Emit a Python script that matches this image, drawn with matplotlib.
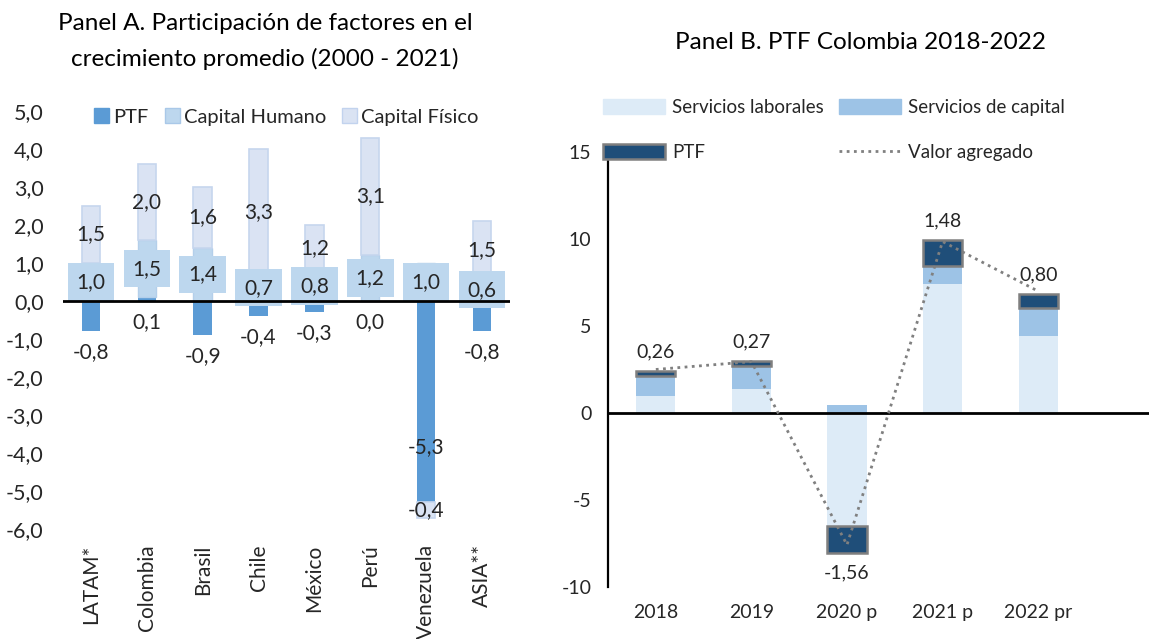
import numpy as np
import matplotlib
matplotlib.use('Agg')
import matplotlib.pyplot as plt
from matplotlib.patches import Patch
from matplotlib.lines import Line2D
from matplotlib.ticker import FuncFormatter

plt.rcParams['font.family'] = ['Lato', 'DejaVu Sans']
plt.rcParams['axes.unicode_minus'] = False

TXT = '#262626'

# Panel A: participación de factores (2000 - 2021)
paises = ['LATAM*', 'Colombia', 'Brasil', 'Chile', 'México', 'Perú', 'Venezuela', 'ASIA**']
ptf_a = [-0.8, 0.1, -0.9, -0.4, -0.3, 0.0, -5.3, -0.8]
cap_humano = [1.0, 1.5, 1.4, 0.7, 0.8, 1.2, 1.0, 0.6]
cap_fisico = [1.5, 2.0, 1.6, 3.3, 1.2, 3.1, -0.4, 1.5]
ticks_a = [5, 4, 3, 2, 1, 0, -1, -2, -3, -4, -5, -6]

# Panel B: PTF Colombia 2018-2022
anios = ['2018', '2019', '2020 p', '2021 p', '2022 pr']
serv_laborales = [1.0, 1.4, -6.5, 7.4, 4.45]
serv_capital = [1.15, 1.3, 0.48, 1.06, 1.58]
ptf_b = [0.26, 0.27, -1.56, 1.48, 0.80]
valor_agregado = [2.5, 2.95, -7.58, 9.85, 7.0]
ticks_b = [15, 10, 5, 0, -5, -10]


def stack(series):
    """bases de barras apiladas (positivos y negativos por separado)"""
    n = len(series[0])
    pos = np.zeros(n)
    neg = np.zeros(n)
    out = []
    for s in series:
        s = np.asarray(s, dtype=float)
        out.append(np.where(s >= 0, pos, neg))
        pos = pos + np.where(s >= 0, s, 0)
        neg = neg + np.where(s < 0, s, 0)
    return out


def coma(v, dec=1):
    return f'{v:.{dec}f}'.replace('.', ',')


fig = plt.figure(figsize=(11.49, 6.39), dpi=100)

# ---------------- Panel A ----------------
ax = fig.add_axes([0.0548, 0.1721, 0.389, 0.6541])
x = np.arange(len(paises))
w = 0.33
b_ptf, b_ch, b_cf = stack([ptf_a, cap_humano, cap_fisico])

ax.bar(x, ptf_a, w, bottom=b_ptf, color='#5B9BD5', zorder=2)
ax.bar(x, cap_humano, w, bottom=b_ch, color='#BDD7EE', edgecolor='#B4CFEA', lw=1, zorder=2)
ax.bar(x, cap_fisico, w, bottom=b_cf, color='#DAE3F3', edgecolor='#C6D6EE', lw=1.2, zorder=2)
ax.axhline(0, color='black', lw=2, zorder=5)

for i in range(len(paises)):
    # capital fisico: centro del segmento
    ax.text(x[i], b_cf[i] + cap_fisico[i] / 2, coma(cap_fisico[i]), ha='center', va='center',
            fontsize=15, color=TXT, zorder=4)
    # capital humano: caja ancha
    ax.text(x[i], b_ch[i] + cap_humano[i] / 2, coma(cap_humano[i]), ha='center', va='center',
            fontsize=15, color=TXT, zorder=4,
            bbox=dict(boxstyle='square,pad=0.42', fc='#BDD7EE', ec='none'))
    # PTF
    v = ptf_a[i]
    y = v + 1.45 if v < -3 else min(v, 0) - 0.55
    ax.text(x[i], y, coma(v), ha='center', va='center', fontsize=15, color=TXT, zorder=4)

ax.set_xlim(-0.5, len(paises) - 0.5)
ax.set_ylim(-6, 5)
ax.set_yticks(ticks_a)
ax.yaxis.set_major_formatter(FuncFormatter(lambda v, p: coma(v)))
ax.set_xticks(x)
ax.set_xticklabels(paises, rotation=90, va='top', ha='center')
ax.tick_params(axis='y', length=0, pad=14, labelsize=15.5, labelcolor=TXT)
ax.tick_params(axis='x', length=0, pad=11, labelsize=15, labelcolor=TXT)
for s in ax.spines.values():
    s.set_visible(False)

leg_a = [Patch(fc='#5B9BD5', ec='#5B9BD5', label='PTF'),
         Patch(fc='#BDD7EE', ec='#A9C8E8', label='Capital Humano'),
         Patch(fc='#DAE3F3', ec='#C2D3EE', label='Capital Físico')]
ax.legend(handles=leg_a, loc='upper center', bbox_to_anchor=(0.5, 1.05), ncol=3, frameon=False,
          fontsize=14.5, handlelength=0.75, handleheight=0.75, handletextpad=0.2, columnspacing=0.8,
          labelcolor=TXT)

fig.text(0.2306, 0.935, 'Panel A. Participación de factores en el\ncrecimiento promedio (2000 - 2021)',
         ha='center', va='center', fontsize=17.5, color='black', linespacing=1.75)

# ---------------- Panel B ----------------
bx = fig.add_axes([0.5292, 0.0814, 0.4708, 0.6808])
xb = np.arange(len(anios))
wb = 0.41
b_lab, b_cap, b_ptf_b = stack([serv_laborales, serv_capital, ptf_b])

bx.bar(xb, serv_laborales, wb, bottom=b_lab, color='#DDEBF7', zorder=2)
bx.bar(xb, serv_capital, wb, bottom=b_cap, color='#9DC3E6', zorder=2)
bx.bar(xb, ptf_b, wb, bottom=b_ptf_b, color='#1F4E79', edgecolor='#7F7F7F', lw=1.8, zorder=3)
bx.plot(xb, valor_agregado, color='#808080', lw=2, linestyle=(0, (1, 1.6)), zorder=6)
bx.axhline(0, color='black', lw=2, zorder=5)

for i in range(len(anios)):
    v = ptf_b[i]
    if v >= 0:
        ytop = b_ptf_b[i] + v
        bx.annotate(coma(v, 2), (xb[i], ytop), xytext=(0, 14), textcoords='offset points',
                    ha='center', va='center', fontsize=14, color=TXT, zorder=7)
    else:
        ybot = b_ptf_b[i] + v
        bx.annotate(coma(v, 2), (xb[i], ybot), xytext=(0, -14), textcoords='offset points',
                    ha='center', va='center', fontsize=14, color=TXT, zorder=7)

bx.set_xlim(-0.5, 5.16)
bx.set_ylim(-10, 15)
bx.set_yticks(ticks_b)
bx.set_xticks(xb)
bx.set_xticklabels(anios)
bx.tick_params(axis='y', length=0, pad=12, labelsize=14, labelcolor=TXT)
bx.tick_params(axis='x', length=0, pad=12, labelsize=14, labelcolor=TXT)
for k in ['top', 'right', 'bottom']:
    bx.spines[k].set_visible(False)
bx.spines['left'].set_linewidth(1.6)
bx.spines['left'].set_color('black')

leg_b = [Patch(fc='#DDEBF7', ec='#DDEBF7', label='Servicios laborales'),
         Patch(fc='#1F4E79', ec='#7F7F7F', lw=1.8, label='PTF'),
         Patch(fc='#9DC3E6', ec='#9DC3E6', label='Servicios de capital'),
         Line2D([0], [0], color='#808080', lw=2, linestyle=(0, (1, 1.6)), label='Valor agregado')]
lg = fig.legend(handles=leg_b, loc='upper left', bbox_to_anchor=(0.5248, 0.845), ncol=2, frameon=False,
                fontsize=13.5, handlelength=3.3, handleheight=0.8, handletextpad=0.4,
                columnspacing=0.8, labelspacing=1.5, borderpad=0, borderaxespad=0,
                labelcolor=TXT)
lg.set_zorder(10)

fig.text(0.7485, 0.934, 'Panel B. PTF Colombia 2018-2022', ha='center', va='center',
         fontsize=17.5, color='black')

plt.savefig('out.png', dpi=100)
plt.close()
